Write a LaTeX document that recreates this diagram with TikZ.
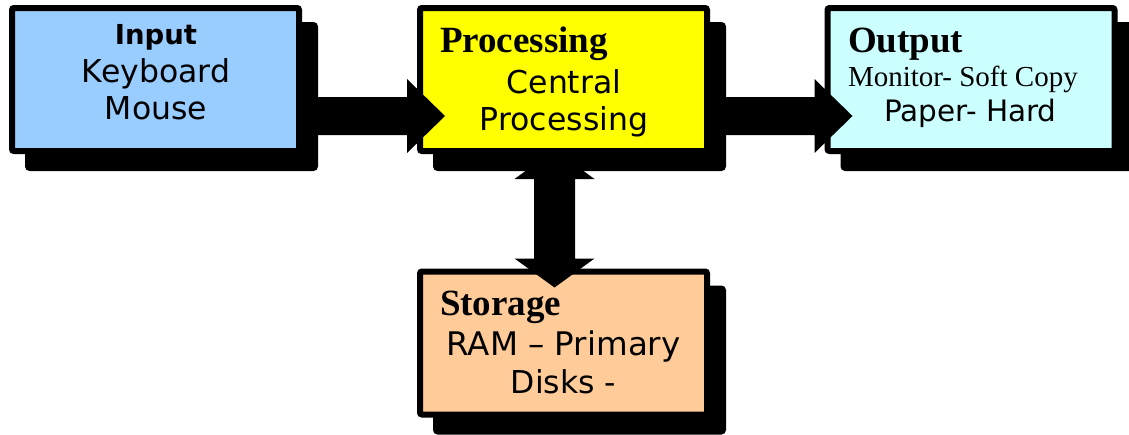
\documentclass[tikz,border=0pt]{standalone}
\usepackage{fontspec}
\setmainfont{Liberation Serif}
\newfontfamily\vsans{DejaVu Sans}
\usetikzlibrary{calc}
\definecolor{inblue}{HTML}{99CCFF}
\definecolor{procyellow}{HTML}{FFFF00}
\definecolor{outcyan}{HTML}{CCFFFF}
\definecolor{storpeach}{HTML}{FFCC99}
\tikzset{
  box/.style={draw=black, line width=6pt, rounded corners=2pt, minimum width=287pt,
    minimum height=143pt, inner sep=0pt, outer sep=0pt},
  shadowbox/.style={box, fill=black},
  fat/.style={fill=black},
  lbl/.style={inner sep=0pt, outer sep=0pt, anchor=base, text=black},
  lblw/.style={lbl, anchor=base west},
  sansbig/.style={font=\vsans\fontsize{31.5}{31.5}\selectfont},
  sanswide/.style={font=\vsans\fontsize{32.5}{32.5}\selectfont},
  sansmid/.style={font=\vsans\fontsize{29.5}{29.5}\selectfont},
  sanstitle/.style={font=\vsans\bfseries\fontsize{27.5}{27.5}\selectfont},
  seriftitle/.style={font=\bfseries\fontsize{37}{37}\selectfont},
  serifmid/.style={font=\fontsize{29}{29}\selectfont},
}
\newcommand\fatH[2]{%
  \fill[fat] ($(#1)+(0,-19)$) -- ($(#2)+(-38,-19)$) -- ($(#2)+(-38,-37)$) -- (#2)
    -- ($(#2)+(-38,37)$) -- ($(#2)+(-38,19)$) -- ($(#1)+(0,19)$) -- cycle;}
\begin{document}
\begin{tikzpicture}[x=1pt,y=-1pt]
\useasboundingbox (0,0) rectangle (1129,434);
% shadows
\node[shadowbox] (inpS)  at (171.5,96.5) {};
\node[shadowbox] (procS) at (579.5,96.5) {};
\node[shadowbox] (outpS) at (987,96.5) {};
\node[shadowbox] (storS) at (579.5,360) {};
% boxes
\node[box, fill=storpeach] (stor) at (563.5,343) {};
\node[box, fill=inblue] (inp) at (155.5,79.5) {};
\node[box, fill=procyellow] (proc) at (563.5,79.5) {};
\node[box, fill=outcyan] (outp) at (971,79.5) {};
% vertical double arrow
\coordinate (vT) at ($(proc.south)+(-9,-1)$);
\coordinate (vB) at ($(stor.north)+(-9,16)$);
\fill[fat] (vT) -- ($(vT)+(40,29)$) -- ($(vT)+(20.5,29)$) -- ($(vB)+(20.5,-29)$)
  -- ($(vB)+(40,-29)$) -- (vB) -- ($(vB)+(-40,-29)$) -- ($(vB)+(-20.5,-29)$)
  -- ($(vT)+(-20.5,29)$) -- ($(vT)+(-40,29)$) -- cycle;
% horizontal arrows
\coordinate (a1s) at ($(inp.east)+(11,36.5)$);
\coordinate (a1t) at ($(proc.west)+(25,36.5)$);
\fatH{a1s}{a1t}
\coordinate (a2s) at ($(proc.east)+(11,36.5)$);
\coordinate (a2t) at ($(outp.west)+(25,36.5)$);
\fatH{a2s}{a2t}
% texts
\node[lbl, sanstitle] (tin) at (156,44) {Input};
\node[lbl, sansbig] (tkb) at (156,82) {Keyboard};
\node[lbl, sansbig] (tms) at (156,119) {Mouse};
\node[lblw, seriftitle] (tpr) at (440,52) {Processing};
\node[lbl, sansbig] (tcen) at (564,93) {Central};
\node[lbl, sansbig] (tpr2) at (564,130) {Processing};
\node[lblw, seriftitle] (tout) at (848,52) {Output};
\node[lblw, serifmid] (tmon) at (848,86) {Monitor- Soft Copy};
\node[lbl, sansmid] (tpap) at (970.5,121) {Paper- Hard};
\node[lblw, seriftitle] (tsto) at (440,315) {Storage};
\node[lbl, sanswide] (tram) at (563.5,355) {RAM – Primary};
\node[lbl, sansbig] (tdis) at (563.5,393) {Disks -};
\end{tikzpicture}
\end{document}
